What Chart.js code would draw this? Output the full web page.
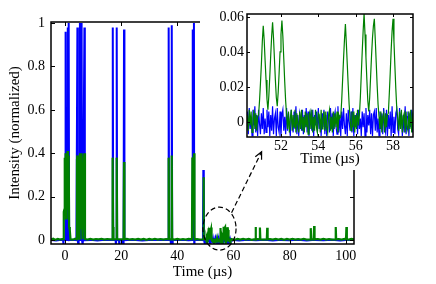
<!DOCTYPE html>
<html>
<head>
<meta charset="utf-8">
<script src="https://cdn.jsdelivr.net/npm/chart.js@4"></script>
<style>
  body { margin: 0; background: #fff; }
  #wrap { position: relative; width: 436px; height: 284px; }
  canvas { position: absolute; left: 0; top: 0; }
</style>
</head>
<body>
<div id="wrap">
  <canvas id="mainChart" width="436" height="284"></canvas>
  <canvas id="insetChart" width="436" height="284"></canvas>
</div>
<script>
// tick values
const mainXTicks = [0, 20, 40, 60, 80, 100];
const mainYTicks = [0, 0.2, 0.4, 0.6, 0.8, 1];
const insetXTicks = [52, 54, 56, 58];
const insetYTicks = [0, 0.02, 0.04, 0.06];

// blue trace outside the zoomed window, [time µs, intensity]
const blueBefore = [[-5,0.001],[-3.2,-0.002],[-1.4,0.002],[-0.7,0],[-0.6,-0.02],[-0.5,0],[0.05,0],[0.2,0.96],[0.35,0],
  [0.75,0],[0.9,0.98],[1.05,0.1],[1.15,0],[1.3,1],[1.45,0],[2.6,0.002],[4.05,0],[4.25,0],[4.4,0.98],[4.55,0],
  [4.7,-0.02],[4.85,0],[5.15,0],[5.3,1],[5.45,0],[5.75,0],[5.9,1],[6.05,0],[6.2,0],[6.3,-0.02],[6.4,0],[6.75,0],
  [6.9,0.98],[7.05,0],[9,0.001],[11.5,-0.002],[14,0.002],[16.85,0],[17,0.98],[17.15,0],[18,0],[18.1,-0.02],
  [18.25,0],[18.4,0.98],[18.55,0],[19.2,0],[19.3,-0.02],[19.4,0],[20.6,0],[20.7,-0.02],[20.85,0],[21,0.97],
  [21.15,0],[24,0.002],[27.5,-0.002],[31,0.001],[34.5,0.002],[36.75,0],[36.9,0.98],[37.05,0],[37.6,0],
  [37.7,-0.02],[37.85,0],[38,0.99],[38.15,0],[38.3,-0.02],[38.4,0],[41.5,0.001],[44,-0.001],[45.25,0],
  [45.4,0.97],[45.55,0],[45.75,0],[45.9,1],[46,-0.02],[46.1,0],[48,0.001],[49.1,0],[49.25,0.34],[49.4,0.33],
  [49.5,0],[49.8,-0.02],[49.95,0]];
const blueAfter = [[59.4,0.001],[62,-0.002],[65,0.002],[68,-0.001],[71,0.002],[74,-0.002],[77,0.001],[80,-0.001],
  [83,0.002],[86,-0.002],[89,0.001],[92,-0.001],[95,0.002],[98,-0.002],[101,0.001],[102.9,0]];

// green trace outside the zoomed window
const greenBefore = [[-5,0.003],[-4.2,0.006],[-3.4,0.001],[-2.6,0.005],[-1.8,0.002],[-1,0.005],[-0.6,0.004],
  [-0.5,0.06],[-0.4,0.13],[-0.25,0.14],[-0.1,0.38],[0.05,0.12],[0.2,0.4],[0.35,0.1],[0.5,0.38],[0.65,0.25],
  [0.9,0.41],[1.05,0.14],[1.3,0.39],[1.45,0.06],[1.7,0.045],[1.95,0.004],[2.8,0.002],[3.6,0.006],[4.1,0.003],
  [4.25,0.37],[4.4,0.39],[4.55,0.03],[5.1,0.005],[5.2,0.38],[5.35,0.4],[5.5,0.05],[5.75,0.39],[5.9,0.4],
  [6.05,0.1],[6.2,0.004],[6.75,0.38],[6.9,0.4],[7.1,0.005],[8,0.002],[9,0.006],[10,0.002],[11,0.005],[12,0.003],
  [13,0.006],[14,0.002],[15,0.005],[16,0.003],[16.8,0.004],[16.95,0.38],[17.1,0.06],[17.25,0.003],[18.25,0.005],
  [18.4,0.38],[18.55,0.005],[19.5,0.003],[20.85,0.004],[21,0.36],[21.15,0.004],[22,0.006],[23,0.002],[24,0.005],
  [25,0.002],[26,0.006],[27,0.002],[28,0.005],[29,0.001],[30,0.005],[31,0.002],[32,0.006],[33,0.002],[34,0.005],
  [35,0.002],[36,0.005],[36.75,0.004],[36.9,0.38],[37.05,0.004],[37.85,0.003],[38,0.39],[38.15,0.005],[39,0.002],
  [40,0.006],[41,0.002],[42,0.005],[43,0.002],[44,0.006],[45.2,0.004],[45.35,0.38],[45.5,0.2],[45.65,0.1],
  [45.8,0.38],[45.95,0.4],[46.1,0.01],[46.3,0.003],[47,0.005],[48,0.002],[49.15,0.004],[49.3,0.29],[49.45,0.004],
  [49.8,0.005],[50.1,0.002]];
const greenAfter = [[59.4,0.004],[60.4,0.001],[61.4,0.005],[62.4,0.002],[63.4,0.006],[64.4,0.002],[65.4,0.005],
  [66.4,0.001],[67.7,0.004],[67.85,0.06],[68,0.003],[68.7,0.005],[69.25,0.003],[69.4,0.058],[69.55,0.004],
  [70.5,0.002],[71.85,0.004],[72,0.057],[72.15,0.003],[73,0.005],[74,0.002],[75,0.006],[76,0.002],[77,0.005],
  [78,0.001],[79,0.005],[80,0.002],[81,0.006],[82,0.002],[83,0.005],[84,0.002],[85,0.006],[86,0.002],
  [87.35,0.004],[87.5,0.055],[87.65,0.003],[88.55,0.004],[88.7,0.065],[88.85,0.003],[90,0.005],[91,0.002],
  [92,0.006],[93,0.002],[94,0.005],[95,0.002],[96.25,0.004],[96.4,0.06],[96.55,0.003],[97.5,0.005],[98.5,0.002],
  [99.5,0.005],[100.05,0.003],[100.2,0.06],[100.35,0.004],[101,0.002],[102,0.006],[102.9,0.003]];

// zoomed window: samples every 0.05 µs from 50.2 µs, values in units of 1e-3
const insetStart = 50.2, insetStep = 0.05;
const blueInset = [
  6,-7,8,-4,3,-8,7,-2,9,-6,4,-8,7,-1,-7,5,-4,8,-7,2,
  -6,7,-3,6,-8,4,-5,9,-7,2,5,-8,8,-3,-6,6,-8,4,7,-5,
  3,-7,8,-5,5,-3,-8,7,-1,-6,6,-4,9,-7,4,-8,5,2,-5,7,
  -7,4,-3,8,-6,6,-8,2,5,-5,7,-8,4,-2,6,-6,8,-4,1,-8,
  5,-3,7,-7,4,-8,6,2,-6,8,-4,5,-8,3,6,-3,-7,9,-6,4,
  -8,6,-4,8,-2,-7,5,-8,7,0,-5,6,-6,8,-8,4,-3,5,-7,7,
  -4,2,-8,6,-3,5,-8,8,-6,4,-2,7,-7,5,-8,4,6,-5,8,-6,
  2,-8,6,-4,5,-7,8,-3,-6,7,-8,4,-4,6,-8,9,-6,3,-7,5,
  7,-4,-7,8,-2,5,-8,4,-6,9,-7,3,6,-8,5,-3,7,-6,4];
const greenInset = [
  4,-5,7,-2,6,-6,2,7,-4,5,-5,3,
  4,12,22,33,46,55,47,35,24,13,7,15,26,38,49,57,48,36,24,14,9,17,28,40,50,58,49,36,23,12,4,
  -4,6,-6,2,7,-5,4,-3,7,-6,5,-1,-6,6,-4,7,-5,3,-6,6,
  -3,5,-7,4,6,-4,7,-6,3,-5,7,-3,-6,5,4,-6,7,-4,1,6,
  -5,6,-3,-6,4,7,-5,3,-6,6,-4,5,-3,6,-6,4,2,
  3,12,24,36,47,56,45,33,21,10,2,
  -5,6,-3,6,-6,4,-4,7,-2,
  4,14,27,40,52,62,50,37,24,12,6,14,26,38,48,55,59,47,34,21,10,3,
  -4,6,-6,3,5,-6,5,-3,4,
  5,16,28,41,52,59,46,32,19,8,2,
  -5,6,-4,7,-6,3,5,-6,6,-3,-5,6,-4,7,-6,4,1];

// dashed zoom marker, in main-axis units
const zoomMark = { cx: 55, cy: 0.053, rx: 5.9, ry: 0.099, fromX: 59.3, fromY: 0.126, toX: 70, toY: 0.407 };

const BLUE = 'rgb(0,0,255)';
const GREEN = 'rgb(0,128,0)';

Chart.defaults.font.family = "'Liberation Serif', 'Times New Roman', serif";
Chart.defaults.color = '#000';

const pairs = arr => arr.map(([x, y]) => ({x, y}));
const insetPts = vals => vals.map((v, i) => ({x: +(insetStart + i * insetStep).toFixed(2), y: v / 1000}));

// box + inward ticks on all four sides
const frame = {
  id: 'frame',
  afterDatasetsDraw(chart, args, opts) {
    const {ctx, chartArea: a, scales: {x, y}} = chart;
    const L = opts.tick;
    ctx.save();
    ctx.strokeStyle = '#000';
    ctx.lineWidth = 1;
    ctx.beginPath();
    x.ticks.forEach(t => {
      const p = Math.round(x.getPixelForValue(t.value)) + 0.5;
      ctx.moveTo(p, a.bottom); ctx.lineTo(p, a.bottom - L);
      ctx.moveTo(p, a.top); ctx.lineTo(p, a.top + L);
    });
    y.ticks.forEach(t => {
      const p = Math.round(y.getPixelForValue(t.value)) + 0.5;
      ctx.moveTo(a.left, p); ctx.lineTo(a.left + L, p);
      ctx.moveTo(a.right, p); ctx.lineTo(a.right - L, p);
    });
    ctx.stroke();
    ctx.lineWidth = 1.5;
    ctx.strokeRect(a.left, a.top, a.width, a.height);
    ctx.restore();
  }
};

const lineDs = (data, color, w) => ({
  data, borderColor: color, borderWidth: w, pointRadius: 0, tension: 0, fill: false
});

const mainChart = new Chart(document.getElementById('mainChart'), {
  type: 'line',
  data: {
    datasets: [
      lineDs([...pairs(greenBefore), ...insetPts(greenInset), ...pairs(greenAfter)], GREEN, 2.2),
      lineDs([...pairs(blueBefore), ...insetPts(blueInset), ...pairs(blueAfter)], BLUE, 2)
    ]
  },
  options: {
    responsive: false,
    animation: false,
    devicePixelRatio: 1,
    layout: { padding: { left: 0, right: 82, top: 22, bottom: 0 } },
    plugins: { legend: { display: false }, tooltip: { enabled: false }, frame: { tick: 4 } },
    scales: {
      x: {
        type: 'linear', min: -5, max: 102.9,
        afterBuildTicks: s => { s.ticks = mainXTicks.map(v => ({value: v})); },
        afterFit: s => { s.height = 40; },
        grid: { display: false, drawTicks: false }, border: { display: false },
        ticks: { autoSkip: false, maxRotation: 0, padding: 4, font: { size: 14 }, callback: v => String(v) },
        title: { display: true, text: 'Time (µs)', font: { size: 15 }, padding: { top: 0, bottom: 3 } }
      },
      y: {
        min: -0.018, max: 1.005,
        afterBuildTicks: s => { s.ticks = mainYTicks.map(v => ({value: v})); },
        afterFit: s => { s.width = 51; },
        grid: { display: false, drawTicks: false }, border: { display: false },
        ticks: { autoSkip: false, padding: 6, font: { size: 14 }, callback: v => String(v) },
        title: { display: true, text: 'Intensity (normalized)', font: { size: 15 }, padding: { top: 6, bottom: 0 } }
      }
    }
  },
  plugins: [frame]
});

// white backing for the inset and the dashed zoom marker on top
const insetDecor = {
  id: 'insetDecor',
  beforeDraw(chart) {
    const ctx = chart.ctx;
    ctx.save();
    ctx.fillStyle = '#fff';
    ctx.fillRect(200, 0, 236, 170);
    ctx.restore();
  },
  afterDraw(chart) {
    const ctx = chart.ctx;
    const sx = mainChart.scales.x, sy = mainChart.scales.y;
    const cx = sx.getPixelForValue(zoomMark.cx), cy = sy.getPixelForValue(zoomMark.cy);
    const rx = sx.getPixelForValue(zoomMark.cx + zoomMark.rx) - cx;
    const ry = cy - sy.getPixelForValue(zoomMark.cy + zoomMark.ry);
    const x0 = sx.getPixelForValue(zoomMark.fromX), y0 = sy.getPixelForValue(zoomMark.fromY);
    const x1 = sx.getPixelForValue(zoomMark.toX), y1 = sy.getPixelForValue(zoomMark.toY);
    ctx.save();
    ctx.strokeStyle = '#000';
    ctx.lineWidth = 1.2;
    ctx.setLineDash([5, 3]);
    ctx.beginPath();
    ctx.ellipse(cx, cy, rx, ry, 0, 0, 2 * Math.PI);
    ctx.stroke();
    ctx.beginPath();
    ctx.moveTo(x0, y0); ctx.lineTo(x1, y1);
    ctx.stroke();
    ctx.setLineDash([]);
    const ang = Math.atan2(y1 - y0, x1 - x0);
    ctx.beginPath();
    ctx.moveTo(x1 - 8 * Math.cos(ang - 0.45), y1 - 8 * Math.sin(ang - 0.45));
    ctx.lineTo(x1, y1);
    ctx.lineTo(x1 - 8 * Math.cos(ang + 0.45), y1 - 8 * Math.sin(ang + 0.45));
    ctx.stroke();
    ctx.restore();
  }
};

new Chart(document.getElementById('insetChart'), {
  type: 'line',
  data: {
    datasets: [
      lineDs(insetPts(greenInset), GREEN, 1.2),
      lineDs(insetPts(blueInset), BLUE, 1.2)
    ]
  },
  options: {
    responsive: false,
    animation: false,
    devicePixelRatio: 1,
    layout: { padding: { left: 200, right: 23, top: 14, bottom: 114 } },
    plugins: { legend: { display: false }, tooltip: { enabled: false }, frame: { tick: 3 } },
    scales: {
      x: {
        type: 'linear', min: 50.18, max: 59.07,
        afterBuildTicks: s => { s.ticks = insetXTicks.map(v => ({value: v})); },
        afterFit: s => { s.height = 33; },
        grid: { display: false, drawTicks: false }, border: { display: false },
        ticks: { autoSkip: false, maxRotation: 0, padding: 1, font: { size: 14 }, callback: v => String(v) },
        title: { display: true, text: 'Time (µs)', font: { size: 15 }, padding: { top: 0, bottom: 2 } }
      },
      y: {
        min: -0.0086, max: 0.0617,
        afterBuildTicks: s => { s.ticks = insetYTicks.map(v => ({value: v})); },
        afterFit: s => { s.width = 47; },
        grid: { display: false, drawTicks: false }, border: { display: false },
        ticks: { autoSkip: false, padding: 3, font: { size: 14 }, callback: v => String(v) }
      }
    }
  },
  plugins: [frame, insetDecor]
});
</script>
</body>
</html>
